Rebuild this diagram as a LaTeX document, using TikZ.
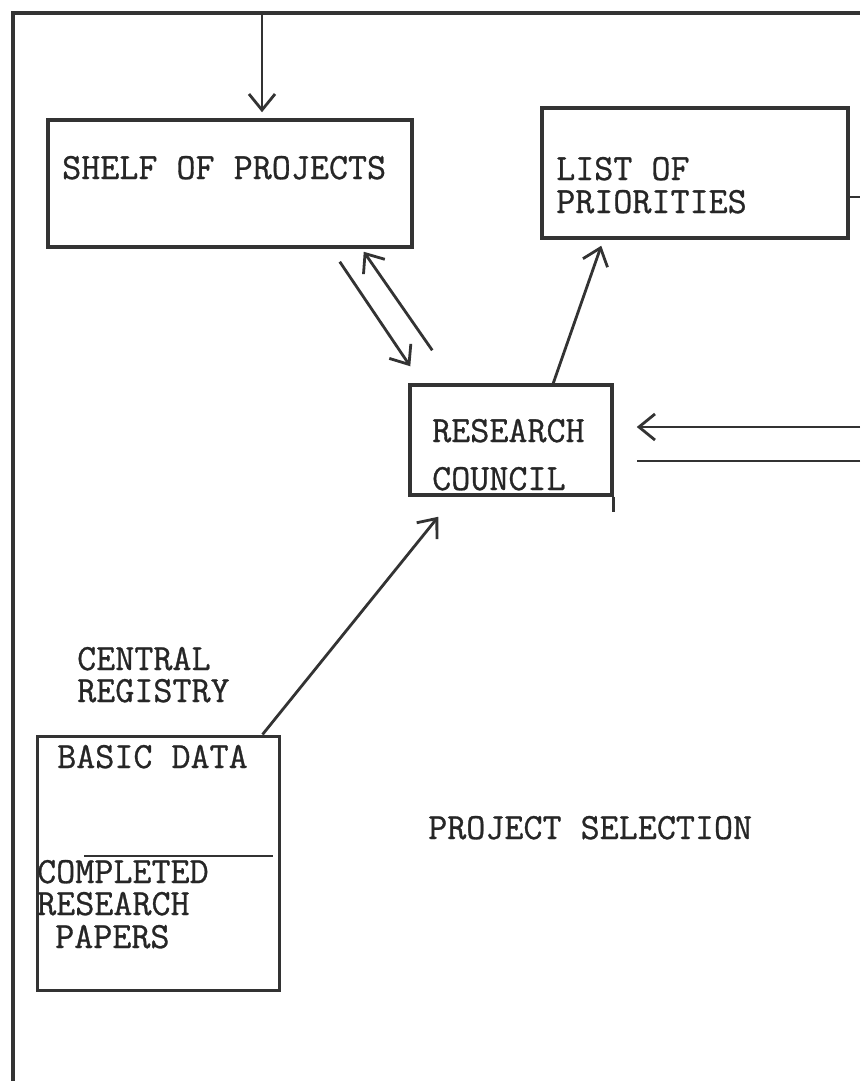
\documentclass[tikz,border=0pt]{standalone}
\usepackage{fontspec}
\usetikzlibrary{arrows.meta,calc}
\definecolor{ink}{gray}{0.2}
\definecolor{tink}{gray}{0.15}
\newfontfamily\typewriter[FakeBold=0.8]{Latin Modern Mono}
\tikzset{
  box/.style={draw=ink, line width=3.5pt, rectangle, inner sep=0pt},
  txt/.style={text=tink, inner sep=0pt, anchor=base west, text height=23pt, text depth=0pt, font=\typewriter\fontsize{37}{32}\selectfont},
  arr/.style={draw=ink, line width=2.8pt, -{Straight Barb[length=16pt,width=26pt]}},
  ln/.style={draw=ink, line width=2.8pt},
  frame/.style={draw=ink, line width=4.5pt}
}
\begin{document}
\begin{tikzpicture}[x=1pt,y=-1pt]
\useasboundingbox (0,0) rectangle (860,1081);
\fill[white] (0,0) rectangle (860,1081);
% frame
\coordinate (fbl) at (13,1081);
\coordinate (ftl) at (13,13);
\coordinate (ftr) at (860,13);
\draw[frame] (fbl) -- (ftl) -- (ftr);
% boxes
\node[box, minimum width=364pt, minimum height=127pt] (shelf) at (230,183.5) {};
\node[box, minimum width=306pt, minimum height=130pt] (prio) at (695,173) {};
\node[box, minimum width=202pt, minimum height=110pt] (council) at (511,440) {};
\node[box, line width=3pt, minimum width=242pt, minimum height=254pt] (data) at (158,863) {};
\draw[ln] (council.south east) -- ++(0,15);
\draw[ln] (84,856) -- (273,856);
% texts
\node[txt] (t1) at (62,179) {SHELF OF PROJECTS};
\node[txt] (t2) at (556,180) {LIST OF};
\node[txt] (t3) at (556,213) {PRIORITIES};
\node[txt] (t4) at (432,442) {RESEARCH};
\node[txt] (t5) at (432,490) {COUNCIL};
\node[txt] (t6) at (77,670) {CENTRAL};
\node[txt] (t7) at (77,702) {REGISTRY};
\node[txt] (t8) at (57,768) {BASIC DATA};
\node[txt] (t9) at (37,883) {COMPLETED};
\node[txt] (t10) at (37,915) {RESEARCH};
\node[txt] (t11) at (55,948) {PAPERS};
\node[txt] (t12) at (428,839) {PROJECT SELECTION};
% connectors
\coordinate (topin) at (262,13);
\draw[arr] (topin) -- ($(topin |- shelf.north)+(0,-6)$);
\coordinate (rout) at (860,197);
\draw[ln] (prio.east |- rout) -- (rout);
\coordinate (rin1) at (860,427);
\coordinate (rin2) at (860,461);
\draw[arr] (rin1) -- ($(council.east |- rin1)+(23,0)$);
\draw[ln] (rin2) -- ($(council.east |- rin2)+(23,0)$);
\draw[arr] ($(shelf.south east)+(-74,13)$) -- ($(council.north west)+(2,-17)$);
\draw[arr] ($(council.north west)+(24,-33)$) -- ($(shelf.south east)+(-50,3)$);
\draw[arr] ($(council.north west)+(145,0)$) -- ($(prio.south west)+(61,6)$);
\draw[arr] ($(data.north east)+(-18,0)$) -- ($(council.south west)+(30,20)$);
\end{tikzpicture}
\end{document}
